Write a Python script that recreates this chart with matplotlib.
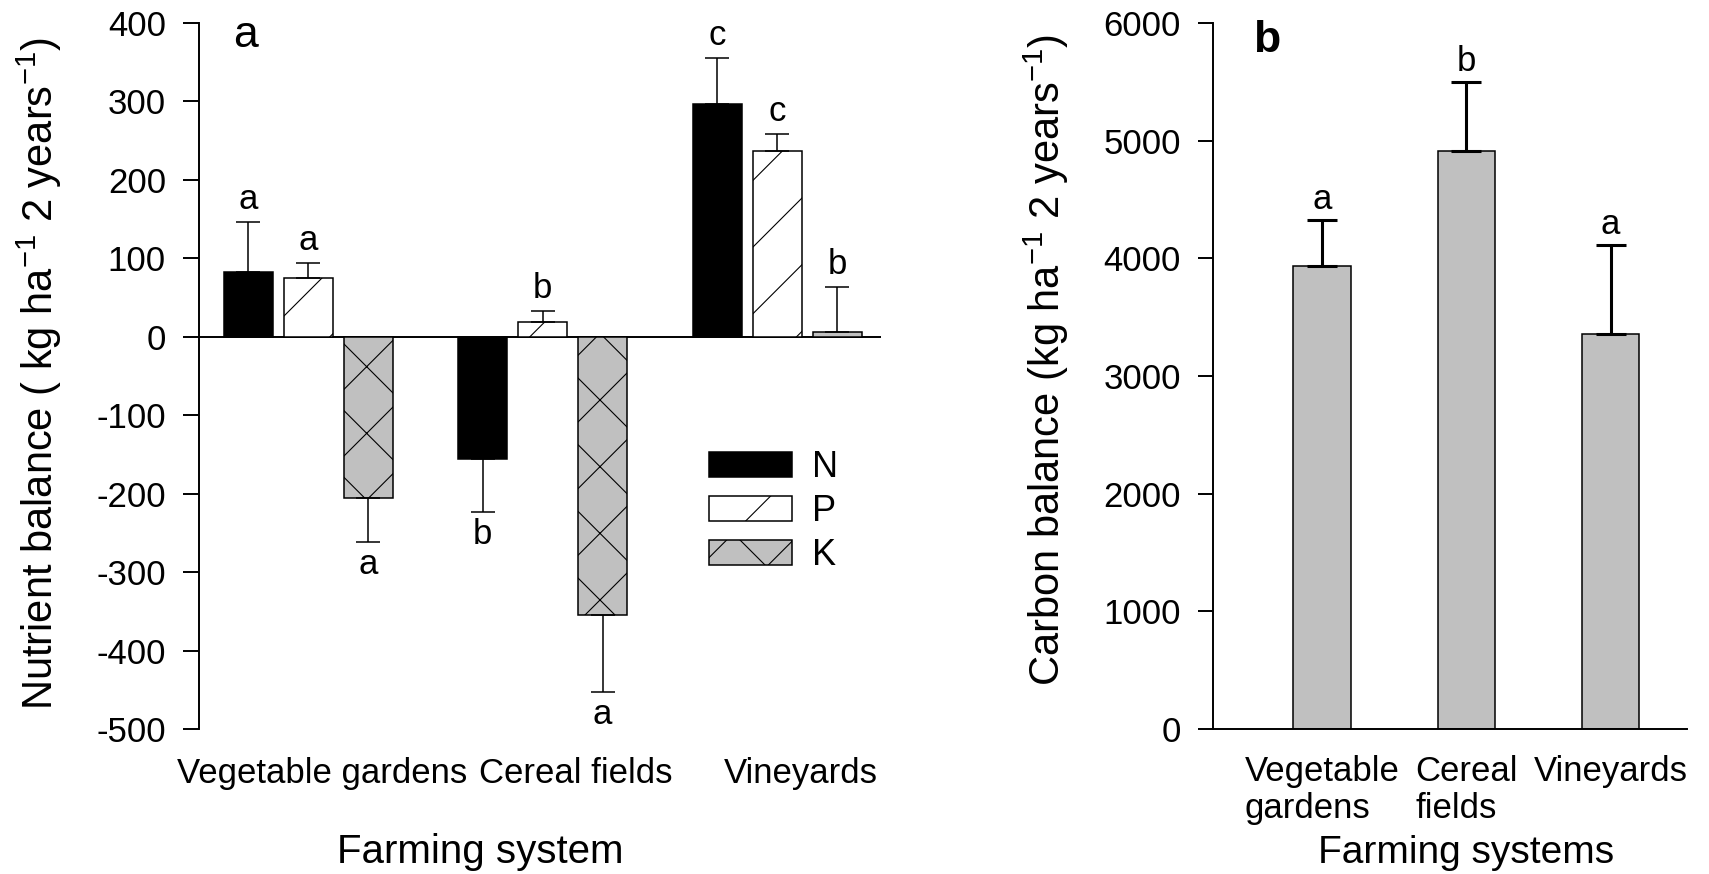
import numpy as np
import matplotlib.pyplot as plt
from matplotlib.patches import Patch

# figure drawn at 200 dpi so the hatch spacing comes out close to the original
DPI = 200
W, H = 1709, 874


def px(v):
    """pixels -> points at the working dpi"""
    return v * 72.0 / DPI


plt.rcParams["font.family"] = "Liberation Sans"
plt.rcParams["mathtext.fontset"] = "custom"
plt.rcParams["mathtext.rm"] = "Liberation Sans"
plt.rcParams["mathtext.it"] = "Liberation Sans:italic"
plt.rcParams["axes.unicode_minus"] = False
plt.rcParams["hatch.linewidth"] = 0.4

# Panel a: nutrient balance
systems_a = ["Vegetable gardens", "Cereal fields", "Vineyards"]
nutrients = ["N", "P", "K"]

n_mean = [82, -156, 297]
n_err = [64, 67, 58]
n_sig = ["a", "b", "c"]

p_mean = [75, 19, 237]
p_err = [19, 14, 22]
p_sig = ["a", "b", "c"]

k_mean = [-206, -355, 6]
k_err = [56, 98, 57]
k_sig = ["a", "a", "b"]

# Panel b: carbon balance
systems_b = ["Vegetable\ngardens", "Cereal\nfields", "Vineyards"]
carbon_mean = [3933, 4912, 3360]
carbon_err = [393, 587, 757]
carbon_sig = ["a", "b", "a"]

GRAY = "#c0c0c0"
TICK_FS = 12.5
LETTER_FS = 12.5

fig = plt.figure(figsize=(W / DPI, H / DPI), dpi=DPI)
ax_a = fig.add_axes([199 / W, 1 - 729 / H, (881 - 199) / W, (729 - 23) / H])
ax_b = fig.add_axes([1213 / W, 1 - 729 / H, (1687 - 1213) / W, (729 - 23) / H])


def one_sided_err(means, errs):
    lo = [e if m < 0 else 0 for m, e in zip(means, errs)]
    hi = [e if m >= 0 else 0 for m, e in zip(means, errs)]
    return [lo, hi]


def add_letters(ax, xs, means, errs, sigs, up_px=13, down_px=32):
    for x, m, e, s in zip(xs, means, errs, sigs):
        if m >= 0:
            ax.annotate(s, (x, m + e), xytext=(0, px(up_px)), textcoords="offset points",
                        ha="center", va="baseline", fontsize=LETTER_FS)
        else:
            ax.annotate(s, (x, m - e), xytext=(0, -px(down_px)), textcoords="offset points",
                        ha="center", va="baseline", fontsize=LETTER_FS)


# panel a bars
groups = np.arange(1, 4)
step = 0.256
width = 0.209
series = [
    (n_mean, n_err, n_sig, "black", None),
    (p_mean, p_err, p_sig, "white", "/"),
    (k_mean, k_err, k_sig, GRAY, "x"),
]

ax_a.axhline(0, color="black", lw=0.7, zorder=1)
for i, (mean, err, sig, fc, hatch) in enumerate(series):
    xs = groups + (i - 1) * step
    ax_a.bar(xs, mean, width, color=fc, edgecolor="black", linewidth=0.55,
             hatch=hatch, zorder=2)
    ax_a.errorbar(xs, mean, yerr=one_sided_err(mean, err), fmt="none",
                  ecolor="black", elinewidth=0.55, capsize=px(12), capthick=0.55, zorder=3)
    add_letters(ax_a, xs, mean, err, sig)

ax_a.set_xlim(0.535, 3.443)
ax_a.set_ylim(-500, 400)
ax_a.set_yticks(range(-500, 401, 100))
ax_a.set_xticks([1.06, 2.14, 3.10], systems_a)
for side in ["top", "right", "bottom"]:
    ax_a.spines[side].set_visible(False)
ax_a.spines["left"].set_linewidth(0.7)
ax_a.tick_params(axis="x", length=0, pad=px(28), labelsize=TICK_FS)
ax_a.tick_params(axis="y", direction="out", length=px(16), width=0.7, pad=px(17),
                 labelsize=TICK_FS)

ax_a.set_ylabel(r"Nutrient balance ( kg ha$^{\mathregular{-1}}$ 2 years$^{\mathregular{-1}}$)",
                fontsize=15)
ax_a.yaxis.set_label_coords(-0.198, 0.504)
ax_a.set_xlabel("Farming system", fontsize=14.5)
ax_a.xaxis.set_label_coords(0.412, -0.147)
ax_a.text(0.05, 0.966, "a", transform=ax_a.transAxes, fontsize=16, va="baseline")

handles = [Patch(facecolor=fc, edgecolor="black", hatch=hatch, linewidth=0.55)
           for _, _, _, fc, hatch in series]
ax_a.legend(handles, nutrients, loc="upper left", bbox_to_anchor=(0.748, 0.395),
            frameon=False, fontsize=13, handlelength=2.3, handleheight=0.7,
            handletextpad=0.55, labelspacing=0.25, borderpad=0, borderaxespad=0)

# panel b bars
ax_b.bar(groups, carbon_mean, 0.40, color=GRAY, edgecolor="black", linewidth=0.55, zorder=2)
ax_b.errorbar(groups, carbon_mean, yerr=one_sided_err(carbon_mean, carbon_err), fmt="none",
              ecolor="black", elinewidth=1.1, capsize=px(15), capthick=1.1, zorder=3)
add_letters(ax_b, groups, carbon_mean, carbon_err, carbon_sig, up_px=11)

ax_b.set_xlim(0.243, 3.53)
ax_b.set_ylim(0, 6000)
ax_b.set_yticks(range(0, 6001, 1000))
ax_b.set_xticks(groups, systems_b, multialignment="left", linespacing=1.15)
for side in ["top", "right"]:
    ax_b.spines[side].set_visible(False)
for side in ["left", "bottom"]:
    ax_b.spines[side].set_linewidth(0.7)
ax_b.tick_params(axis="x", length=0, pad=px(26), labelsize=TICK_FS)
ax_b.tick_params(axis="y", direction="out", length=px(15), width=0.7, pad=px(17),
                 labelsize=TICK_FS)
for lbl in ax_b.get_xticklabels():
    lbl.set_verticalalignment("top")

ax_b.set_ylabel(r"Carbon balance (kg ha$^{\mathregular{-1}}$ 2 years$^{\mathregular{-1}}$)",
                fontsize=15)
ax_b.yaxis.set_label_coords(-0.30, 0.523)
ax_b.set_xlabel("Farming systems", fontsize=14)
ax_b.xaxis.set_label_coords(0.534, -0.15)
ax_b.text(0.084, 0.959, "b", transform=ax_b.transAxes, fontsize=16, fontweight="bold",
          va="baseline")

fig.savefig("out.png", dpi=DPI)
